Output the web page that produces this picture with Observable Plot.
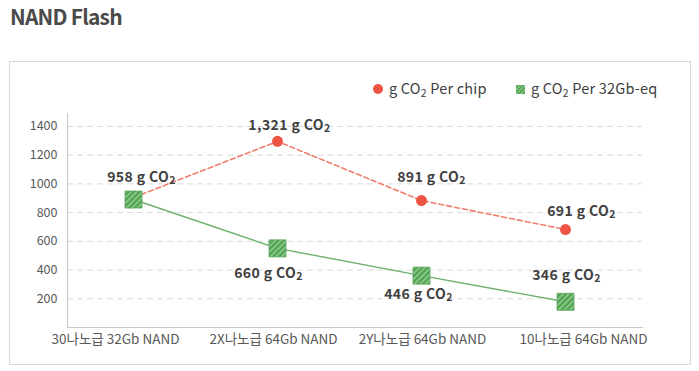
<!DOCTYPE html>
<html>
<head>
<meta charset="utf-8">
<script src="https://cdn.jsdelivr.net/npm/d3@7"></script>
<script src="https://cdn.jsdelivr.net/npm/@observablehq/plot@0.6"></script>
<style>
  html, body { margin: 0; padding: 0; background: #fff; }
  body { width: 699px; height: 371px; position: relative; overflow: hidden; font-family: "Noto Sans CJK KR", "Noto Sans", sans-serif; }
  #title { position: absolute; left: 10px; top: 6px; font-size: 21px; line-height: 21px; font-weight: bold; color: #4a4a4a; letter-spacing: -0.8px; }
  #box { position: absolute; left: 9px; top: 61px; width: 680px; height: 302px; border: 1px solid #d9d9d9; }
  #chart { position: absolute; left: 0; top: 0; }
  .leg { position: absolute; top: 16px; display: flex; align-items: center; font-size: 14.5px; color: #404040; line-height: 20px; letter-spacing: 0.2px; }
  .leg .sub { font-size: 10.5px; position: relative; top: 3px; }
  .sw { display: inline-block; margin-right: 6px; }
</style>
</head>
<body>
<div id="title">NAND Flash</div>
<div id="box">
  <div id="chart"></div>
  <div class="leg" id="leg0" style="left:363px"></div>
  <div class="leg" id="leg1" style="left:506px"></div>
</div>
<script>
const categories = ["30나노급 32Gb NAND", "2X나노급 64Gb NAND", "2Y나노급 64Gb NAND", "10나노급 64Gb NAND"];
const seriesNames = ["g CO₂ Per chip", "g CO₂ Per 32Gb-eq"];
const perChip = [905, 1296, 884, 682];
const per32Gb = [891, 551, 361, 179];
const perChipLabels = ["", "1,321 g CO₂", "891 g CO₂", "691 g CO₂"];
const per32GbLabels = ["958 g CO₂", "660 g CO₂", "446 g CO₂", "346 g CO₂"];
const yTicks = [200, 400, 600, 800, 1000, 1200, 1400];

const redDot = "#ee5443";
const redLine = "#f07d6e";
const greenLine = "#6cb06c";

const chipRows = categories.map((c, i) => ({cat: c, v: perChip[i], label: perChipLabels[i]}));
const eqRows = categories.map((c, i) => ({cat: c, v: per32Gb[i], label: per32GbLabels[i]}));

// layout-only offsets
const chipOffsets = [[0, 0], [12, -16], [10, -23], [16, -18]];
const eqOffsets = [[8, -22], [-9, 25], [-3, 19], [1, -26]];
const xLabelShift = [-18, -4, 1, 18];

const labelStyle = {fill: "#404040", fontSize: 14, fontWeight: "bold", fontFamily: "Noto Sans CJK KR", className: "dlabel"};
const labelMarks = [];
chipRows.forEach((d, i) => {
  if (d.label) labelMarks.push(Plot.text([d], {x: "cat", y: "v", text: "label", dx: chipOffsets[i][0], dy: chipOffsets[i][1], ...labelStyle}));
});
eqRows.forEach((d, i) => {
  labelMarks.push(Plot.text([d], {x: "cat", y: "v", text: "label", dx: eqOffsets[i][0], dy: eqOffsets[i][1], ...labelStyle}));
});

const xAxes = categories.map((c, i) =>
  Plot.axisX([c], {tickSize: 0, tickPadding: 7, fontSize: 13.5, fill: "#595959", label: null, dx: xLabelShift[i]})
);

const chart = Plot.plot({
  width: 680,
  height: 302,
  marginLeft: 57,
  marginRight: 48,
  marginTop: 51,
  marginBottom: 37,
  style: {fontFamily: "Noto Sans CJK KR", fontSize: "12px", color: "#595959", background: "transparent", overflow: "visible"},
  x: {type: "point", domain: categories, padding: 0.49, align: 0.464},
  y: {domain: [0, 1490]},
  marks: [
    Plot.ruleY(yTicks, {stroke: "#d9d9d9", strokeDasharray: "6,4", strokeWidth: 1}),
    Plot.frame({anchor: "left", stroke: "#c8c8c8"}),
    Plot.frame({anchor: "bottom", stroke: "#c8c8c8"}),
    Plot.axisY({ticks: yTicks, tickSize: 0, tickPadding: 10, tickFormat: d3.format("d"), fontSize: 12.5, fill: "#595959", label: null}),
    ...xAxes,
    Plot.line(chipRows, {x: "cat", y: "v", stroke: redLine, strokeWidth: 1.6, strokeDasharray: "5,3"}),
    Plot.dot(chipRows, {x: "cat", y: "v", r: 5.5, fill: redDot, stroke: "none"}),
    Plot.line(eqRows, {x: "cat", y: "v", stroke: greenLine, strokeWidth: 1.4}),
    Plot.dot(eqRows, {x: "cat", y: "v", symbol: "square", r: 9.6, fill: "url(#hatch)", stroke: "#5aa55a", strokeWidth: 0.8}),
    ...labelMarks
  ]
});

const ns = "http://www.w3.org/2000/svg";
function addHatch(svg, id) {
  const defs = document.createElementNS(ns, "defs");
  const pat = document.createElementNS(ns, "pattern");
  pat.setAttribute("id", id);
  pat.setAttribute("patternUnits", "userSpaceOnUse");
  pat.setAttribute("width", "4");
  pat.setAttribute("height", "4");
  pat.setAttribute("patternTransform", "rotate(45)");
  const bg = document.createElementNS(ns, "rect");
  bg.setAttribute("width", "4"); bg.setAttribute("height", "4"); bg.setAttribute("fill", "#52a052");
  const st = document.createElementNS(ns, "rect");
  st.setAttribute("width", "1.6"); st.setAttribute("height", "4"); st.setAttribute("fill", "#8fcf8f");
  pat.appendChild(bg); pat.appendChild(st);
  defs.appendChild(pat);
  svg.insertBefore(defs, svg.firstChild);
}
addHatch(chart, "hatch");

// render "₂" as a real lowered, smaller "2" in data labels
chart.querySelectorAll("g.dlabel text").forEach(t => {
  const s = t.textContent;
  const k = s.indexOf("₂");
  if (k < 0) return;
  t.textContent = "";
  const a = document.createElementNS(ns, "tspan");
  a.textContent = s.slice(0, k);
  const b = document.createElementNS(ns, "tspan");
  b.textContent = "2";
  b.setAttribute("font-size", "10.5");
  b.setAttribute("dy", "2");
  t.appendChild(a); t.appendChild(b);
  if (k + 1 < s.length) {
    const c = document.createElementNS(ns, "tspan");
    c.textContent = s.slice(k + 1);
    c.setAttribute("dy", "-2");
    t.appendChild(c);
  }
});
chart.querySelectorAll("g.dlabel").forEach(g => g.setAttribute("letter-spacing", "0.4"));
document.getElementById("chart").appendChild(chart);

// legend
function legendText(span, s) {
  const k = s.indexOf("₂");
  span.appendChild(document.createTextNode(s.slice(0, k)));
  const sub = document.createElement("span");
  sub.className = "sub";
  sub.textContent = "2";
  span.appendChild(sub);
  span.appendChild(document.createTextNode(s.slice(k + 1)));
}
const leg0 = document.getElementById("leg0");
leg0.innerHTML = `<svg class="sw" width="10" height="10"><circle cx="5" cy="5" r="5" fill="${redDot}"/></svg><span></span>`;
legendText(leg0.querySelector("span"), seriesNames[0]);
const leg1 = document.getElementById("leg1");
leg1.innerHTML = `<svg class="sw" width="9" height="9"><defs><pattern id="hatch2" patternUnits="userSpaceOnUse" width="3" height="3" patternTransform="rotate(45)"><rect width="3" height="3" fill="#52a052"/><rect width="1.2" height="3" fill="#8fcf8f"/></pattern></defs><rect width="9" height="9" fill="url(#hatch2)"/></svg><span></span>`;
legendText(leg1.querySelector("span"), seriesNames[1]);
</script>
</body>
</html>
